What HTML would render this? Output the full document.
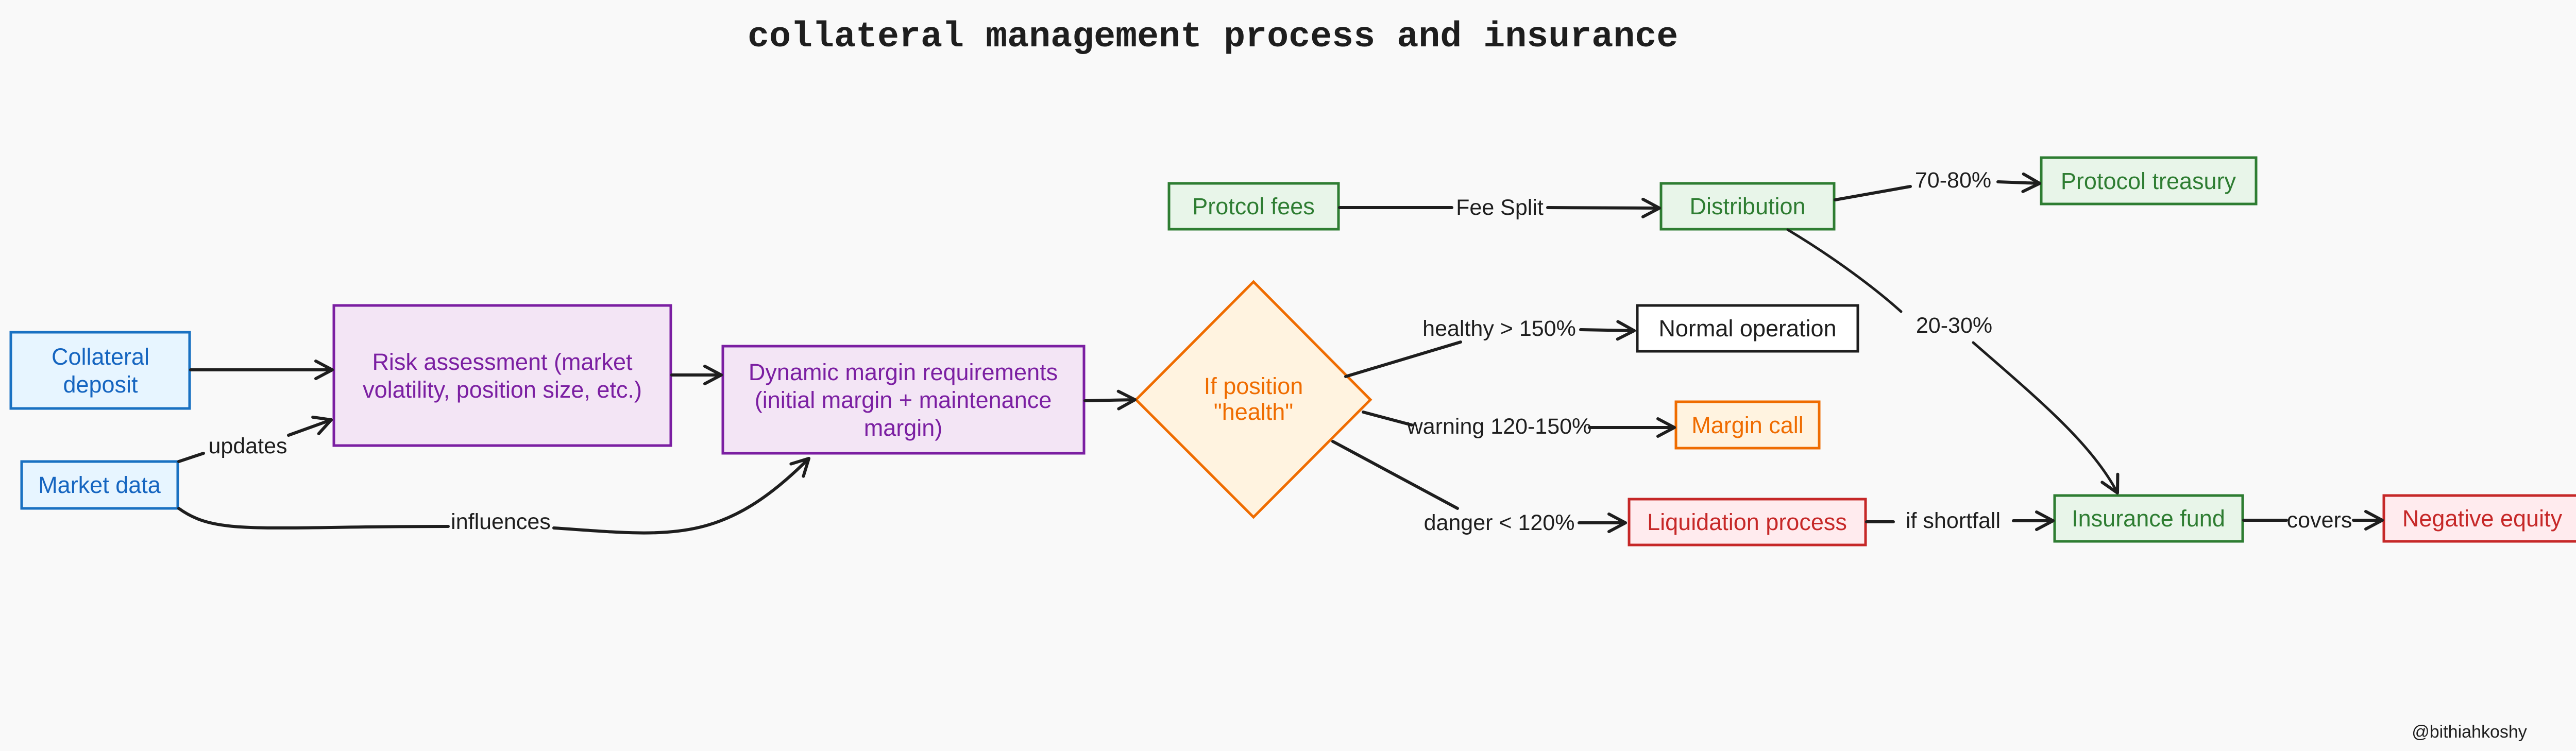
<!DOCTYPE html>
<html><head><meta charset="utf-8"><style>
html,body{margin:0;padding:0;background:#f9f9f9;}
svg{display:block;}
text{font-family:"Liberation Sans",sans-serif;}
</style></head><body>
<svg width="5029" height="1458" viewBox="0 0 5029 1458" xmlns="http://www.w3.org/2000/svg">
<defs>
<marker id="a" markerUnits="userSpaceOnUse" markerWidth="50" markerHeight="50" refX="40" refY="25" orient="auto" viewBox="0 0 50 50">
<path d="M8,8 L40,25 L8,42" fill="none" stroke="#1e1e1e" stroke-width="6" stroke-linecap="round" stroke-linejoin="round"/>
</marker>
</defs>
<rect width="5029" height="1458" fill="#f9f9f9"/>
<text x="1451" y="90" font-size="70" font-weight="bold" fill="#1e1e1e" style="font-family:'Liberation Mono',monospace">collateral management process and insurance</text>

<g stroke-width="5">
<rect x="21" y="645" width="347" height="148" fill="#e7f5ff" stroke="#1971c2"/>
<rect x="42" y="896" width="303" height="91" fill="#e7f5ff" stroke="#1971c2"/>
<rect x="648" y="593" width="654" height="272" fill="#f3e5f5" stroke="#7b1fa2"/>
<rect x="1403" y="672" width="701" height="208" fill="#f3e5f5" stroke="#7b1fa2"/>
<polygon points="2433,547 2660,776 2433,1004 2205,776" fill="#fff3e0" stroke="#ef6c00"/>
<rect x="2269" y="356" width="329" height="89" fill="#e8f5e9" stroke="#2e7d32"/>
<rect x="3224" y="356" width="336" height="89" fill="#e8f5e9" stroke="#2e7d32"/>
<rect x="3962" y="306" width="417" height="90" fill="#e8f5e9" stroke="#2e7d32"/>
<rect x="3178" y="593" width="428" height="89" fill="#ffffff" stroke="#1e1e1e"/>
<rect x="3253" y="780" width="278" height="90" fill="#fff3e0" stroke="#ef6c00"/>
<rect x="3162" y="969" width="459" height="89" fill="#ffebee" stroke="#c62828"/>
<rect x="3988" y="962" width="365" height="89" fill="#e8f5e9" stroke="#2e7d32"/>
<rect x="4627" y="962" width="382" height="89" fill="#ffebee" stroke="#c62828"/>
</g>

<g font-size="45" text-anchor="middle">
<text x="195" y="708" fill="#1565c0">Collateral</text>
<text x="195" y="762" fill="#1565c0">deposit</text>
<text x="193" y="957" fill="#1565c0">Market data</text>
<text x="975" y="718" fill="#7b1fa2">Risk assessment (market</text>
<text x="975" y="772" fill="#7b1fa2">volatility, position size, etc.)</text>
<text x="1753" y="738" fill="#7b1fa2">Dynamic margin requirements</text>
<text x="1753" y="792" fill="#7b1fa2">(initial margin + maintenance</text>
<text x="1753" y="846" fill="#7b1fa2">margin)</text>
<text x="2433" y="765" fill="#ef6c00">If position</text>
<text x="2433" y="815" fill="#ef6c00">"health"</text>
<text x="2433" y="416" fill="#2e7d32">Protcol fees</text>
<text x="3392" y="416" fill="#2e7d32">Distribution</text>
<text x="4170" y="367" fill="#2e7d32">Protocol treasury</text>
<text x="3392" y="653" fill="#1e1e1e">Normal operation</text>
<text x="3392" y="841" fill="#ef6c00">Margin call</text>
<text x="3391" y="1029" fill="#c62828">Liquidation process</text>
<text x="4170" y="1022" fill="#2e7d32">Insurance fund</text>
<text x="4818" y="1022" fill="#c62828">Negative equity</text>
</g>

<g fill="none" stroke="#1e1e1e" stroke-width="6" stroke-linecap="round">
<path d="M370,718 L645,718" marker-end="url(#a)"/>
<path d="M347,896 L395,880 M560,845 L643,815" marker-end="url(#a)"/>
<path d="M347,987 C420,1040 500,1022 870,1022 M1075,1025 C1300,1040 1400,1060 1570,890" marker-end="url(#a)"/>
<path d="M1304,728 L1400,728" marker-end="url(#a)"/>
<path d="M2106,778 L2203,776" marker-end="url(#a)"/>
<path d="M2612,731 L2835,664 M3068,640 L3172,642" marker-end="url(#a)"/>
<path d="M2646,800 L2740,825 M3085,830 L3250,830" marker-end="url(#a)"/>
<path d="M2587,857 L2829,987 M3065,1015 L3155,1015" marker-end="url(#a)"/>
<path d="M3623,1013 L3675,1013 M3908,1011 L3985,1011" marker-end="url(#a)"/>
<path d="M4355,1010 L4438,1010 M4568,1010 L4624,1010" marker-end="url(#a)"/>
<path d="M2600,403 L2818,403 M3004,403 L3221,404" marker-end="url(#a)"/>
<path d="M3562,388 L3708,362 M3878,353 L3959,356" marker-end="url(#a)"/>
<path d="M3470,446 C3560,500 3640,560 3690,605 M3830,665 C3950,770 4060,860 4110,957" stroke-width="5" marker-end="url(#a)"/>
</g>

<g font-size="43" text-anchor="middle" fill="#1e1e1e">
<text x="481" y="880">updates</text>
<text x="972" y="1027">influences</text>
<text x="2910" y="652">healthy &gt; 150%</text>
<text x="2910" y="842">warning 120-150%</text>
<text x="2910" y="1029">danger &lt; 120%</text>
<text x="3791" y="1025">if shortfall</text>
<text x="4502" y="1024">covers</text>
<text x="2911" y="417">Fee Split</text>
<text x="3791" y="364">70-80%</text>
<text x="3793" y="646">20-30%</text>
<text x="4793" y="1432" font-size="34">@bithiahkoshy</text>
</g>
</svg>
</body></html>
